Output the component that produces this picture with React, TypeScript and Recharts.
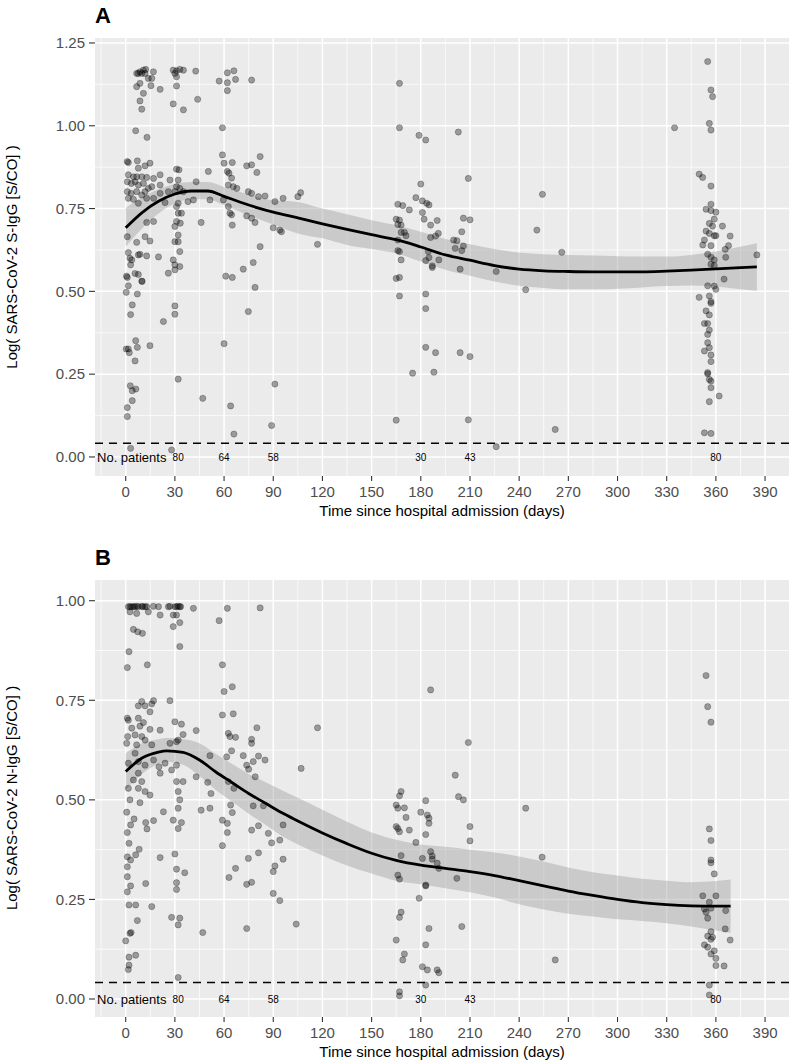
import React from "react";
import {
  ComposedChart,
  Scatter,
  Line,
  Area,
  XAxis,
  YAxis,
  CartesianGrid,
  ReferenceLine,
} from "recharts";

const FONT = "'Liberation Sans', Arial, Helvetica, sans-serif";

// axis ticks
const xTicks = [0, 30, 60, 90, 120, 150, 180, 210, 240, 270, 300, 330, 360, 390];
const xMinor = [-15, 15, 45, 75, 105, 135, 165, 195, 225, 255, 285, 315, 345, 375];
const yTicksA = [0, 0.25, 0.5, 0.75, 1, 1.25];
const yMinorA = [0.125, 0.375, 0.625, 0.875, 1.125];
const yTicksB = [0, 0.25, 0.5, 0.75, 1];
const yMinorB = [0.125, 0.375, 0.625, 0.875];

// detection limit line
const cutoff = 0.0414;

// number of patients per visit
const patientDays = [32, 60, 90, 180, 210, 360];
const patientCounts = [80, 64, 58, 30, 43, 80];

// loess fit, panel A (S-IgG)
const smoothDaysA = [0, 10, 20, 30, 40, 50, 60, 70, 80, 90, 105, 120, 135, 150, 165, 180, 195, 210, 225, 240, 255, 270, 285, 300, 315, 330, 345, 360, 372, 385];
const fitA = [0.692, 0.738, 0.772, 0.794, 0.803, 0.803, 0.787, 0.769, 0.753, 0.739, 0.722, 0.704, 0.687, 0.671, 0.656, 0.634, 0.61, 0.594, 0.578, 0.567, 0.562, 0.56, 0.559, 0.559, 0.559, 0.561, 0.564, 0.568, 0.571, 0.574];
const lowA = [0.635, 0.69, 0.735, 0.765, 0.778, 0.778, 0.76, 0.74, 0.72, 0.702, 0.675, 0.66, 0.64, 0.628, 0.615, 0.59, 0.565, 0.547, 0.53, 0.517, 0.51, 0.506, 0.506, 0.508, 0.512, 0.516, 0.518, 0.515, 0.508, 0.502];
const highA = [0.752, 0.785, 0.808, 0.824, 0.83, 0.83, 0.815, 0.8, 0.786, 0.775, 0.77, 0.75, 0.733, 0.715, 0.7, 0.68, 0.658, 0.642, 0.628, 0.617, 0.612, 0.61, 0.608, 0.606, 0.605, 0.605, 0.61, 0.62, 0.632, 0.645];

// loess fit, panel B (N-IgG)
const smoothDaysB = [0, 10, 20, 25, 35, 45, 55, 65, 75, 85, 95, 105, 120, 135, 150, 165, 180, 195, 210, 225, 240, 255, 270, 285, 300, 315, 330, 345, 360, 369];
const fitB = [0.571, 0.605, 0.62, 0.623, 0.619, 0.6, 0.57, 0.543, 0.516, 0.492, 0.468, 0.447, 0.417, 0.39, 0.366, 0.348, 0.336, 0.328, 0.32, 0.31, 0.297, 0.284, 0.271, 0.26, 0.25, 0.242, 0.237, 0.234, 0.233, 0.233];
const lowB = [0.525, 0.565, 0.59, 0.595, 0.588, 0.56, 0.525, 0.495, 0.465, 0.438, 0.41, 0.388, 0.36, 0.335, 0.315, 0.297, 0.288, 0.278, 0.268, 0.255, 0.238, 0.225, 0.214, 0.207, 0.2, 0.196, 0.19, 0.182, 0.172, 0.166];
const highB = [0.617, 0.642, 0.652, 0.655, 0.652, 0.642, 0.615, 0.59, 0.565, 0.545, 0.525, 0.505, 0.475, 0.445, 0.418, 0.4, 0.388, 0.382, 0.375, 0.368, 0.358, 0.345, 0.33, 0.318, 0.31, 0.302, 0.297, 0.293, 0.296, 0.3];

// observations [day, log S/CO], panel A
const obsA = [
  [6.7, 1.158], [8.7, 1.163], [10.8, 1.168], [12.2, 1.17], [7.7, 1.158], [9.8, 1.158], [11.8, 1.158], [16.9, 1.163], [13.8, 1.143], [15.9, 1.143],
  [8.7, 1.128], [6.7, 1.118], [10.8, 1.098], [15.4, 1.121], [21, 1.11], [8.7, 1.075], [9.8, 1.05],
  [29, 1.168], [31, 1.166], [33, 1.17], [35.2, 1.168], [31, 1.148], [30, 1.158], [42.7, 1.165], [31, 1.12], [29, 1.066], [35.2, 1.048], [43.9, 1.08],
  [57, 1.135], [62, 1.16], [66, 1.166], [67, 1.14], [62, 1.13], [62, 1.106], [76.8, 1.138],
  [6.1, 0.985], [13, 0.965], [59, 0.994],
  [0.9, 0.892], [1.6, 0.889], [7.1, 0.894], [7.7, 0.872], [11.8, 0.879], [14.8, 0.887], [1.6, 0.852], [4.7, 0.846], [6.7, 0.846], [9.8, 0.846],
  [12.8, 0.844], [17, 0.841], [21, 0.852], [1, 0.831], [3.5, 0.826], [5.7, 0.831], [7.7, 0.821], [10.8, 0.826], [13.8, 0.811], [15.9, 0.816],
  [21, 0.821], [1, 0.801], [3.3, 0.796], [6.7, 0.801], [9.8, 0.791], [11.8, 0.801], [1.6, 0.781], [4.7, 0.778], [7.7, 0.766], [12.8, 0.781],
  [17, 0.781], [21, 0.796], [24, 0.768], [27, 0.836], [26, 0.801],
  [31, 0.869], [32.5, 0.867], [32, 0.836], [31, 0.816], [33, 0.811], [30, 0.801], [35.2, 0.801], [32, 0.766], [31, 0.756], [34, 0.736],
  [32, 0.736], [31, 0.711], [33.3, 0.706], [30, 0.696], [32, 0.67], [30, 0.65], [32, 0.65], [33, 0.62], [29, 0.595], [30, 0.58],
  [33, 0.575], [26, 0.555], [30, 0.565], [38, 0.771], [41.3, 0.776], [46, 0.708], [43, 0.831], [50.4, 0.862], [51.4, 0.776],
  [59, 0.912], [60, 0.887], [65, 0.889], [62, 0.862], [63, 0.857], [64.6, 0.842], [62.6, 0.821], [65.6, 0.816], [67.8, 0.811], [59.6, 0.776],
  [62.6, 0.756], [63.6, 0.736], [64.6, 0.731], [65, 0.7], [73.8, 0.879], [76.8, 0.882], [80, 0.859], [82, 0.907], [74.8, 0.801], [76.8, 0.796],
  [81, 0.786], [85, 0.788], [73.8, 0.728], [76.8, 0.721], [78.9, 0.708], [82, 0.635], [77.8, 0.587], [71.7, 0.567], [78.9, 0.512], [74.8, 0.439],
  [91, 0.771], [96, 0.781], [90, 0.692], [95, 0.68], [94, 0.685], [105, 0.786], [106.7, 0.798], [61, 0.546], [65, 0.542],
  [12.8, 0.708], [17, 0.711], [11.8, 0.665], [14.8, 0.652], [1, 0.665], [6.7, 0.648], [1.6, 0.617], [2.6, 0.6], [3.7, 0.595], [7.7, 0.61],
  [8.7, 0.612], [12.8, 0.607], [20, 0.604], [3, 0.58], [0.5, 0.546], [1, 0.542], [5.7, 0.554], [7.7, 0.551], [9.8, 0.531], [1.6, 0.517],
  [0.3, 0.497], [7.1, 0.492], [4, 0.459], [3, 0.43], [10, 0.53], [30, 0.456], [30, 0.431], [23, 0.409],
  [0.3, 0.326], [1.6, 0.326], [2.2, 0.315], [6.1, 0.351], [7.1, 0.331], [14.8, 0.336], [5.7, 0.29], [32, 0.235], [2.8, 0.215], [4, 0.2],
  [6.2, 0.205], [4, 0.17], [1, 0.149], [1, 0.122], [3, 0.026], [28, 0.021], [60, 0.342], [47, 0.177], [64, 0.154], [66, 0.069], [89, 0.095], [91, 0.22],
  [167, 1.128], [167, 0.994], [178.9, 0.971], [183, 0.957], [202.9, 0.981], [209, 0.841], [180, 0.824], [177, 0.783], [181, 0.773], [183.6, 0.766],
  [185, 0.761], [166, 0.763], [169, 0.759], [173, 0.746], [181, 0.738], [182, 0.718], [165, 0.718], [167, 0.715], [166, 0.702], [168, 0.7],
  [186, 0.7], [190, 0.714], [206, 0.721], [210, 0.716], [168, 0.678], [170, 0.678], [171, 0.668], [186, 0.663], [189, 0.667], [190.7, 0.675],
  [205, 0.68], [200, 0.655], [202, 0.653], [117, 0.642], [166, 0.655], [166, 0.623], [167, 0.62], [184.6, 0.62], [201, 0.63], [205, 0.623],
  [206, 0.637], [168, 0.595], [183, 0.593], [185, 0.602], [187, 0.577], [187, 0.572], [191, 0.595], [204, 0.567], [226, 0.56], [165, 0.539],
  [167, 0.542], [167, 0.486], [183, 0.492], [183, 0.448], [183, 0.331], [189, 0.315], [204, 0.315], [210, 0.303], [175, 0.253], [188, 0.256],
  [165, 0.111], [209, 0.112], [226, 0.031],
  [334.8, 0.994], [355, 1.194], [357, 1.108], [358, 1.088], [356, 1.007], [357, 0.987], [254.2, 0.793], [250.8, 0.685], [266, 0.618], [244, 0.505],
  [349.8, 0.854], [351.9, 0.844], [357, 0.818], [357, 0.763], [354, 0.748], [357, 0.744], [360, 0.739], [359, 0.718], [356, 0.705], [358, 0.697],
  [364, 0.697], [354, 0.682], [356, 0.675], [359, 0.668], [360, 0.668], [368.7, 0.667], [353, 0.655], [352, 0.64], [357, 0.638], [367.7, 0.638],
  [365.7, 0.627], [355, 0.612], [357, 0.603], [359, 0.595], [366, 0.603], [385, 0.61], [357, 0.582], [359, 0.578], [365, 0.537], [355, 0.517],
  [359, 0.516], [360, 0.506], [349.8, 0.482], [356, 0.486], [357, 0.469], [357, 0.464], [354, 0.441], [356, 0.429], [355, 0.403], [353, 0.403],
  [356, 0.383], [355, 0.37], [355, 0.345], [356, 0.33], [353, 0.32], [357, 0.308], [357, 0.288], [355, 0.255], [355, 0.251], [356, 0.234],
  [357, 0.229], [357, 0.209], [362, 0.184], [356, 0.167], [353, 0.073], [357, 0.071], [262, 0.083],
];

// observations [day, log S/CO], panel B
const obsB = [
  [1.6, 0.985], [2.6, 0.985], [3.5, 0.985], [4.7, 0.985], [5.5, 0.985], [6.7, 0.986], [7.7, 0.985], [9.8, 0.986], [10.5, 0.985], [11.8, 0.985],
  [12.8, 0.985], [16.9, 0.986], [20, 0.985], [26, 0.985], [27, 0.986], [30, 0.985], [31, 0.985], [32, 0.986], [33, 0.985], [33.5, 0.985], [41.3, 0.981],
  [62, 0.981], [82, 0.982], [2.6, 0.972], [6.7, 0.968], [13.8, 0.972], [21, 0.964], [29, 0.964], [31, 0.964], [57, 0.95], [29, 0.935],
  [33, 0.945], [4.7, 0.928], [7.3, 0.922], [10.2, 0.918], [33, 0.885], [2, 0.872], [1, 0.832], [13.2, 0.839], [59, 0.839], [60, 0.772],
  [65, 0.784], [59, 0.713], [65.6, 0.716], [27, 0.749], [17, 0.749], [7.7, 0.736], [9.8, 0.747], [15.9, 0.741], [14.8, 0.721], [11.8, 0.736],
  [1, 0.705], [1.6, 0.7], [7.7, 0.705], [10.8, 0.694], [8.7, 0.685], [3.7, 0.68], [14.8, 0.677], [21, 0.675], [30, 0.696], [34, 0.69],
  [1.2, 0.659], [5.7, 0.663], [9.8, 0.659], [11.8, 0.65], [35, 0.664], [43, 0.674], [0.6, 0.642], [6.7, 0.638], [15.9, 0.638], [31, 0.646],
  [32, 0.65], [27, 0.642], [62.6, 0.667], [63.6, 0.659], [67, 0.657], [80, 0.681], [76.8, 0.652], [76.8, 0.642], [64.6, 0.623], [61.6, 0.608],
  [51.4, 0.611], [71.7, 0.611], [77.8, 0.596], [81, 0.61], [85, 0.6], [73.8, 0.587], [75, 0.577], [107, 0.579], [5.7, 0.617], [7.7, 0.596],
  [1.6, 0.592], [11.8, 0.587], [17, 0.6], [20.3, 0.583], [24, 0.592], [28, 0.575], [31, 0.587], [7.7, 0.567], [4.7, 0.55], [9.8, 0.546],
  [21, 0.567], [31, 0.546], [35, 0.546], [43, 0.558], [50, 0.544], [79, 0.558], [62.6, 0.546], [66, 0.529], [1.6, 0.529], [7.7, 0.529],
  [11.8, 0.521], [14.8, 0.512], [2.6, 0.5], [8.7, 0.493], [32, 0.521], [33, 0.5], [32, 0.479], [52, 0.516], [23, 0.47], [29, 0.449],
  [34, 0.443], [46, 0.474], [51.4, 0.479], [64, 0.487], [65, 0.468], [77.8, 0.485], [84, 0.485], [96, 0.437], [0.6, 0.469], [5.1, 0.452],
  [12.2, 0.443], [1, 0.418], [3, 0.437], [13, 0.427], [17, 0.448], [32, 0.428], [59, 0.449], [62, 0.441], [62, 0.418], [59, 0.385],
  [76.8, 0.424], [81, 0.435], [87, 0.416], [89, 0.392], [94, 0.399], [81, 0.367], [74.8, 0.353], [96, 0.351], [91, 0.334], [90, 0.32],
  [67, 0.328], [63, 0.305], [73.8, 0.288], [76.8, 0.293], [90, 0.265], [94, 0.247], [104, 0.188], [73.8, 0.177], [2, 0.391], [1, 0.357],
  [3, 0.349], [6.1, 0.362], [8.2, 0.376], [21, 0.355], [30, 0.364], [31, 0.326], [36, 0.317], [1, 0.332], [1, 0.307], [3, 0.284],
  [1, 0.269], [12.2, 0.29], [31, 0.292], [31, 0.275], [2, 0.236], [6.1, 0.236], [15.9, 0.232], [7.1, 0.197], [28, 0.205], [33, 0.203],
  [32, 0.186], [3.3, 0.167], [2.6, 0.165], [47, 0.167], [0, 0.146], [2, 0.105], [6.1, 0.11], [2, 0.085], [1.6, 0.074], [32, 0.054],
  [186, 0.776], [117, 0.681], [209, 0.644], [201, 0.562], [203, 0.508], [206, 0.5], [168, 0.521], [167, 0.51], [165, 0.487], [166, 0.479],
  [170, 0.48], [183, 0.498], [180, 0.469], [184, 0.462], [185, 0.454], [185, 0.441], [171, 0.456], [165, 0.433], [166, 0.428], [167, 0.42],
  [173, 0.424], [183, 0.413], [210, 0.433], [210, 0.397], [177, 0.393], [168, 0.36], [181, 0.353], [186, 0.37], [187, 0.359], [187, 0.351],
  [190, 0.341], [191, 0.328], [202, 0.303], [166, 0.311], [167, 0.301], [183, 0.286], [183, 0.284], [179, 0.253], [168, 0.218], [167, 0.205],
  [185, 0.177], [205, 0.182], [165, 0.148], [183, 0.136], [170, 0.113], [169, 0.098], [181, 0.081], [184, 0.073], [190, 0.073], [191, 0.066],
  [183, 0.035], [167, 0.018], [167, 0.008],
  [354, 0.812], [355, 0.734], [357, 0.695], [244, 0.479], [254, 0.356], [262, 0.098], [356, 0.427], [357, 0.398], [357, 0.349], [357, 0.342],
  [359, 0.314], [352, 0.259], [360, 0.259], [356, 0.243], [353, 0.226], [354, 0.218], [357, 0.228], [355, 0.203], [366, 0.222], [357, 0.169],
  [355, 0.158], [358, 0.155], [357, 0.15], [365.7, 0.176], [368.7, 0.148], [353, 0.136], [355, 0.13], [359, 0.121], [357, 0.113], [360, 0.102],
  [360, 0.084], [365, 0.083], [356, 0.035], [356, 0.01],
];

const X_DOMAIN: [number, number] = [-18.73, 404.6];

const Dot = (p: any) => {
  if (p.cx == null || p.cy == null) return null;
  return (
    <circle cx={p.cx} cy={p.cy} r={3.1} fill="#000" fillOpacity={0.35} stroke="#000" strokeOpacity={0.35} strokeWidth={0.7} />
  );
};

const CountText = (p: any) => {
  if (p.cx == null) return null;
  return (
    <text x={p.cx} y={p.cy} dy="0.36em" textAnchor="middle" fontSize={10} fontFamily={FONT} fill="#000">
      {p.payload.n}
    </text>
  );
};

const NoteText = (p: any) => {
  if (p.cx == null) return null;
  return (
    <text x={p.cx} y={p.cy} dy="0.36em" textAnchor="start" fontSize={13} fontFamily={FONT} fill="#000">
      No. patients
    </text>
  );
};

const mapX = (axis: any, offset: any, vals: number[]) =>
  vals.map((v) =>
    axis && typeof axis.scale === "function"
      ? axis.scale(v)
      : offset.left + ((v - X_DOMAIN[0]) / (X_DOMAIN[1] - X_DOMAIN[0])) * offset.width
  );

type PanelProps = {
  obs: number[][];
  days: number[];
  fit: number[];
  low: number[];
  high: number[];
  yTicks: number[];
  yMinor: number[];
  yDomain: [number, number];
  height: number;
  top: number;
  axisHeight: number;
  labelOffset: number;
};

const Panel = ({ obs, days, fit, low, high, yTicks, yMinor, yDomain, height, top, axisHeight, labelOffset }: PanelProps) => {
  const points = obs.map(([d, v]) => ({ day: d, v }));
  const smooth = days.map((d, i) => ({ day: d, fit: fit[i], band: [low[i], high[i]] }));
  const counts = patientDays.map((d, i) => ({ day: d, v: 0, n: patientCounts[i] }));
  const note = [{ day: -17.5, v: 0 }];

  const mapY = (axis: any, offset: any, vals: number[]) =>
    vals.map((v) =>
      axis && typeof axis.scale === "function"
        ? axis.scale(v)
        : offset.top + ((yDomain[1] - v) / (yDomain[1] - yDomain[0])) * offset.height
    );

  return (
    <ComposedChart
      width={790}
      height={height}
      data={smooth}
      margin={{ top, right: 1, bottom: 0, left: 0 }}
      style={{ fontFamily: FONT }}
    >
      <CartesianGrid
        fill="#EBEBEB"
        fillOpacity={1}
        stroke="#FFFFFF"
        strokeWidth={0.7}
        verticalCoordinatesGenerator={({ xAxis, offset }: any) => mapX(xAxis, offset, xMinor)}
        horizontalCoordinatesGenerator={({ yAxis, offset }: any) => mapY(yAxis, offset, yMinor)}
      />
      <CartesianGrid
        stroke="#FFFFFF"
        strokeWidth={1.5}
        verticalCoordinatesGenerator={({ xAxis, offset }: any) => mapX(xAxis, offset, xTicks)}
        horizontalCoordinatesGenerator={({ yAxis, offset }: any) => mapY(yAxis, offset, yTicks)}
      />
      <XAxis
        type="number"
        dataKey="day"
        domain={X_DOMAIN}
        allowDataOverflow
        ticks={xTicks}
        interval={0}
        height={axisHeight}
        axisLine={false}
        tickSize={5}
        tickMargin={5}
        tickLine={{ stroke: "#333333", strokeWidth: 1.1 }}
        tick={{ fill: "#4D4D4D", fontSize: 15, fontFamily: FONT }}
        label={{
          value: "Time since hospital admission (days)",
          position: "insideBottom",
          offset: labelOffset,
          fill: "#000000",
          fontSize: 15,
          fontFamily: FONT,
        }}
      />
      <YAxis
        type="number"
        domain={yDomain}
        allowDataOverflow
        ticks={yTicks}
        interval={0}
        width={95}
        axisLine={false}
        tickSize={6}
        tickMargin={4}
        tickLine={{ stroke: "#333333", strokeWidth: 1.1 }}
        tick={{ fill: "#4D4D4D", fontSize: 15, fontFamily: FONT }}
        tickFormatter={(v: number) => v.toFixed(2)}
      />
      <ReferenceLine y={cutoff} stroke="#000" strokeWidth={1.5} strokeDasharray="8 6" />
      <Scatter data={points} dataKey="v" shape={Dot} isAnimationActive={false} />
      <Area
        type="monotone"
        dataKey="band"
        stroke="none"
        fill="#999999"
        fillOpacity={0.4}
        isAnimationActive={false}
      />
      <Line
        type="monotone"
        dataKey="fit"
        stroke="#000"
        strokeWidth={2.8}
        dot={false}
        activeDot={false}
        isAnimationActive={false}
      />
      <Scatter data={counts} dataKey="v" shape={CountText} isAnimationActive={false} />
      <Scatter data={note} dataKey="v" shape={NoteText} isAnimationActive={false} />
    </ComposedChart>
  );
};

export default function App() {
  return (
    <div style={{ position: "absolute", left: 0, top: 0, width: 790, height: 1064, background: "#fff", fontFamily: FONT }}>
      <div style={{ position: "absolute", left: 0, top: 0 }}>
        <Panel
          obs={obsA}
          days={smoothDaysA}
          fit={fitA}
          low={lowA}
          high={highA}
          yTicks={yTicksA}
          yMinor={yMinorA}
          yDomain={[-0.0575, 1.265]}
          height={530}
          top={38}
          axisHeight={54}
          labelOffset={14}
        />
      </div>
      <div style={{ position: "absolute", left: 0, top: 530 }}>
        <Panel
          obs={obsB}
          days={smoothDaysB}
          fit={fitB}
          low={lowB}
          high={highB}
          yTicks={yTicksB}
          yMinor={yMinorB}
          yDomain={[-0.0452, 1.052]}
          height={534}
          top={50}
          axisHeight={47}
          labelOffset={7}
        />
      </div>
      <svg width={790} height={1064} style={{ position: "absolute", left: 0, top: 0, pointerEvents: "none" }}>
        <text x={95} y={23} fontSize={22} fontWeight="bold" fontFamily={FONT} fill="#000">A</text>
        <text x={95} y={565} fontSize={22} fontWeight="bold" fontFamily={FONT} fill="#000">B</text>
        <text
          transform="translate(17,257) rotate(-90)"
          textAnchor="middle"
          fontSize={15}
          fontFamily={FONT}
          fill="#000"
        >
          Log( SARS-CoV-2 S-IgG [S/CO] )
        </text>
        <text
          transform="translate(17,798) rotate(-90)"
          textAnchor="middle"
          fontSize={15}
          fontFamily={FONT}
          fill="#000"
        >
          Log( SARS-CoV-2 N-IgG [S/CO] )
        </text>
      </svg>
    </div>
  );
}
